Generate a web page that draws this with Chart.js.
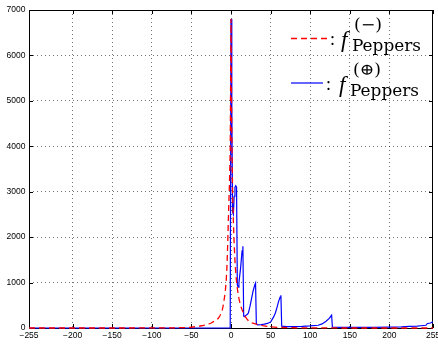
<!DOCTYPE html>
<html>
<head>
<meta charset="utf-8">
<script src="https://cdn.jsdelivr.net/npm/chart.js@4.4.1/dist/chart.umd.min.js"></script>
<style>
html,body{margin:0;padding:0;background:#fff;}
#wrap{width:438px;height:345px;position:relative;}
</style>
</head>
<body>
<div id="wrap"><canvas id="c" width="438" height="345"></canvas></div>
<script>
// ---- data ----
const redX = [-255,-150,-100,-80,-70,-60,-52,-45,-39,-34,-30,-28,-25,-22,-20,-18,-16,-14,-12,-11,-10,-9,-8,-7,-6,-5,-4,-3,-2,-1,0,1,2,3,4,5,6,7,8,9,10,12,14,16,18,20,22,26,32,40,50,60,80,100,150,255];
const redY = [0,0,1,3,5,9,15,28,44,60,72,88,110,140,160,180,215,270,340,400,480,580,700,850,1050,1400,1950,2600,3150,3900,6800,4300,3000,2350,1850,1480,1220,1020,870,750,650,500,400,320,250,200,160,115,85,50,25,12,5,2,0,0];

const blueX = [-255,-1,0,1,2,3,4,5,6,7,8,9,10,11,12,13,14,15,16,17,18,20,22,24,26,28,30,31,32,34,38,42,46,50,54,56,58,60,62,63,64,70,80,90,100,110,115,120,124,127,128,140,160,180,200,215,225,235,240,246,248,252,254,255];
const blueY = [0,0,6800,4850,2550,2500,2900,3100,3130,3100,950,900,1000,1150,1300,1500,1700,1800,260,250,270,290,330,480,650,820,950,990,80,70,75,85,100,130,250,330,450,580,680,720,40,30,30,35,45,60,90,150,210,280,20,15,15,15,20,25,35,40,50,60,100,110,130,130];

const xTicks = [-255,-200,-150,-100,-50,0,50,100,150,200,255];
const yTicks = [0,1000,2000,3000,4000,5000,6000,7000];
const seriesNames = ['(\u2212)', '(\u2295)'];
const subName = 'Peppers';

const toPts = (xs, ys) => xs.map((x, i) => ({x: x, y: ys[i]}));

function drawFit(ctx, text, x, y, font, w) {
  ctx.save();
  ctx.font = font;
  const m = ctx.measureText(text).width;
  ctx.translate(x, y);
  ctx.scale(w / m, 1);
  ctx.fillText(text, 0, 0);
  ctx.restore();
}

const framePlugin = {
  id: 'frame',
  beforeDatasetsDraw(chart) {
    const {ctx, chartArea: a, scales} = chart;
    ctx.save();
    ctx.strokeStyle = '#000';
    ctx.lineWidth = 1;
    ctx.setLineDash([]);
    ctx.strokeRect(a.left + 0.5, a.top + 0.5, a.right - a.left - 1, a.bottom - a.top);
    ctx.beginPath();
    xTicks.forEach(v => {
      const px = Math.round(scales.x.getPixelForValue(v)) + 0.5;
      ctx.moveTo(px, a.bottom); ctx.lineTo(px, a.bottom - 4);
      ctx.moveTo(px, a.top); ctx.lineTo(px, a.top + 4);
    });
    yTicks.forEach(v => {
      const py = Math.round(scales.y.getPixelForValue(v)) + 0.5;
      ctx.moveTo(a.left, py); ctx.lineTo(a.left + 4, py);
      ctx.moveTo(a.right, py); ctx.lineTo(a.right - 4, py);
    });
    ctx.stroke();
    ctx.restore();
  },
  afterDraw(chart) {
    const ctx = chart.ctx;
    ctx.save();
    ctx.fillStyle = '#000';
    ctx.textBaseline = 'alphabetic';
    // entry 1: red dashed
    ctx.strokeStyle = '#ff0000';
    ctx.lineWidth = 1.3;
    ctx.setLineDash([6, 4]);
    ctx.beginPath(); ctx.moveTo(291, 38.5); ctx.lineTo(327, 38.5); ctx.stroke();
    ctx.setLineDash([]);
    ctx.font = '18px "Liberation Serif"';
    ctx.fillText(':', 330, 45);
    ctx.font = 'italic 23px "Liberation Serif"';
    ctx.fillText('f', 341, 47);
    drawFit(ctx, seriesNames[0], 354, 30, '16px "DejaVu Serif"', 28);
    drawFit(ctx, subName, 352, 51, '16px "DejaVu Serif"', 69);
    // entry 2: blue solid
    ctx.strokeStyle = '#0000ff';
    ctx.lineWidth = 1.2;
    ctx.beginPath(); ctx.moveTo(291, 83); ctx.lineTo(323, 83); ctx.stroke();
    ctx.font = '18px "Liberation Serif"';
    ctx.fillText(':', 326, 89.5);
    ctx.font = 'italic 23px "Liberation Serif"';
    ctx.fillText('f', 339, 91.5);
    drawFit(ctx, seriesNames[1], 353, 75, '16px "DejaVu Serif"', 28);
    drawFit(ctx, subName, 350, 95.5, '16px "DejaVu Serif"', 69);
    ctx.restore();
  }
};

const gridColor = (ctx, edge) => {
  const v = ctx.tick ? ctx.tick.value : null;
  return (v === edge[0] || v === edge[1]) ? 'rgba(0,0,0,0)' : 'rgba(0,0,0,0.55)';
};

new Chart(document.getElementById('c'), {
  type: 'line',
  data: {
    datasets: [
      {
        label: 'f(-) Peppers',
        data: toPts(redX, redY),
        borderColor: '#ff0000',
        borderWidth: 1.3,
        borderDash: [6, 4],
        pointRadius: 0,
        tension: 0,
        fill: false,
        clip: 3
      },
      {
        label: 'f(+) Peppers',
        data: toPts(blueX, blueY),
        borderColor: '#0000ff',
        borderWidth: 1.2,
        pointRadius: 0,
        tension: 0,
        fill: false,
        clip: 3
      }
    ]
  },
  options: {
    responsive: false,
    animation: false,
    devicePixelRatio: 1,
    layout: {padding: {left: 0, top: 10, right: 5, bottom: 0}},
    plugins: {legend: {display: false}, tooltip: {enabled: false}},
    scales: {
      x: {
        type: 'linear',
        min: -255, max: 255,
        afterBuildTicks: s => { s.ticks = xTicks.map(v => ({value: v})); },
        afterFit: s => { s.height = 17; s.paddingLeft = 0; s.paddingRight = 0; },
        ticks: {
          autoSkip: false, maxRotation: 0, padding: 2.5,
          color: '#000',
          font: {family: '"Liberation Sans", Arial, sans-serif', size: 8.5},
          callback: v => String(v).replace('-', '\u2212')
        },
        grid: {drawTicks: false, lineWidth: 1, color: c => gridColor(c, [-255, 255])},
        border: {display: false, dash: [1, 3]}
      },
      y: {
        type: 'linear',
        min: 0, max: 7000,
        afterBuildTicks: s => { s.ticks = yTicks.map(v => ({value: v})); },
        afterFit: s => { s.width = 29; s.paddingTop = 0; s.paddingBottom = 0; },
        ticks: {
          autoSkip: false, padding: 3.5,
          color: '#000',
          font: {family: '"Liberation Sans", Arial, sans-serif', size: 8.5},
          callback: v => String(v)
        },
        grid: {drawTicks: false, lineWidth: 1, color: c => gridColor(c, [0, 7000])},
        border: {display: false, dash: [1, 3]}
      }
    }
  },
  plugins: [framePlugin]
});
</script>
</body>
</html>
